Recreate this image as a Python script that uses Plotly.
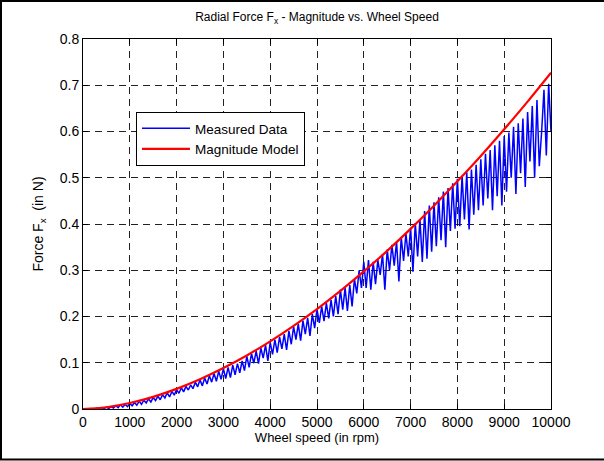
import plotly.graph_objects as go

# Sample grid of the measured run (rpm)
speed_rpm = list(range(0, 10001, 50))

# Measured radial force magnitude (N), one value per grid point
measured_force = [
    0.000, 0.000, 0.001, 0.000, 0.001, 0.000, 0.002, 0.000, 0.003, 0.001,
    0.004, 0.001, 0.005, 0.002, 0.007, 0.003, 0.009, 0.004, 0.010, 0.005,
    0.012, 0.007, 0.014, 0.008, 0.017, 0.010, 0.019, 0.013, 0.022, 0.015,
    0.025, 0.018, 0.028, 0.020, 0.031, 0.024, 0.035, 0.026, 0.038, 0.030,
    0.042, 0.034, 0.046, 0.037, 0.049, 0.041, 0.052, 0.044, 0.058, 0.048,
    0.063, 0.050, 0.067, 0.054, 0.072, 0.058, 0.077, 0.060, 0.082, 0.064,
    0.087, 0.066, 0.090, 0.068, 0.095, 0.074, 0.098, 0.078, 0.104, 0.083,
    0.114, 0.090, 0.120, 0.099, 0.125, 0.098, 0.132, 0.110, 0.138, 0.104,
    0.144, 0.118, 0.150, 0.122, 0.156, 0.130, 0.162, 0.128, 0.169, 0.140,
    0.178, 0.150, 0.184, 0.148, 0.191, 0.162, 0.197, 0.158, 0.205, 0.175,
    0.216, 0.186, 0.222, 0.190, 0.229, 0.196, 0.236, 0.200, 0.244, 0.205,
    0.258, 0.215, 0.262, 0.212, 0.268, 0.222, 0.281, 0.250, 0.300, 0.262,
    0.318, 0.262, 0.322, 0.258, 0.318, 0.270, 0.322, 0.290, 0.335, 0.258,
    0.345, 0.300, 0.355, 0.310, 0.362, 0.276, 0.372, 0.320, 0.380, 0.330,
    0.392, 0.297, 0.402, 0.330, 0.410, 0.318, 0.428, 0.325, 0.440, 0.340,
    0.447, 0.352, 0.458, 0.365, 0.470, 0.350, 0.478, 0.385, 0.488, 0.390,
    0.498, 0.395, 0.504, 0.410, 0.512, 0.388, 0.518, 0.420, 0.528, 0.430,
    0.540, 0.440, 0.552, 0.455, 0.560, 0.430, 0.570, 0.460, 0.580, 0.440,
    0.590, 0.470, 0.598, 0.500, 0.610, 0.465, 0.618, 0.510, 0.628, 0.480,
    0.642, 0.535, 0.655, 0.500, 0.668, 0.525, 0.600, 0.690, 0.548, 0.703,
    0.600,
]

# Magnitude model evaluated every 500 rpm
model_rpm = [0, 500, 1000, 1500, 2000, 2500, 3000, 3500, 4000, 4500, 5000,
             5500, 6000, 6500, 7000, 7500, 8000, 8500, 9000, 9500, 10000]
model_force = [0.0, 0.0038, 0.0129, 0.0263, 0.0435, 0.0643, 0.0886, 0.1158,
               0.1463, 0.1798, 0.2161, 0.2554, 0.2974, 0.342, 0.3894, 0.4395,
               0.4922, 0.547, 0.6047, 0.6646, 0.727]

x_ticks = [0, 1000, 2000, 3000, 4000, 5000, 6000, 7000, 8000, 9000, 10000]
y_ticks = [0, 0.1, 0.2, 0.3, 0.4, 0.5, 0.6, 0.7, 0.8]

FONT = "Liberation Sans, Arial, sans-serif"

fig = go.Figure()
fig.add_trace(go.Scatter(
    x=speed_rpm, y=measured_force, mode="lines", name="Measured Data",
    line=dict(color="#0000ff", width=1.5),
))
fig.add_trace(go.Scatter(
    x=model_rpm, y=model_force, mode="lines", name="Magnitude Model",
    line=dict(color="#ff0000", width=2.2, shape="spline"),
))

axis_common = dict(
    showline=True, linecolor="black", linewidth=1, mirror="ticks",
    ticks="inside", ticklen=5, tickcolor="black", tickwidth=1,
    showgrid=True, gridcolor="#222222", gridwidth=1, griddash="7px,5px",
    zeroline=False, tickfont=dict(family=FONT, size=14, color="black"),
)

fig.update_xaxes(
    range=[0, 10000], tickvals=x_ticks, ticktext=[str(v) for v in x_ticks],
    title=dict(text="Wheel speed (in rpm)", font=dict(family=FONT, size=13, color="black"),
               standoff=3),
    **axis_common,
)
fig.update_yaxes(
    range=[0, 0.8], tickvals=y_ticks, ticktext=[f"{v:g}" for v in y_ticks],
    title=dict(text="Force F<sub>x</sub>  (in N)", font=dict(family=FONT, size=14, color="black"),
               standoff=12),
    **axis_common,
)

fig.update_layout(
    width=604, height=461,
    margin=dict(l=83, r=53, t=39, b=52),
    paper_bgcolor="white", plot_bgcolor="white",
    font=dict(family=FONT, size=13, color="black"),
    title=dict(text="Radial Force F<sub>x</sub> - Magnitude vs. Wheel Speed",
               x=(83 + 551) / 2 / 604, xanchor="center", y=1 - 17 / 461, yanchor="middle",
               font=dict(family=FONT, size=12, color="black")),
    showlegend=True,
    legend=dict(x=(136 - 83) / 468, y=(409 - 112) / 370, xanchor="left", yanchor="top",
                bgcolor="white", bordercolor="black", borderwidth=1,
                font=dict(family=FONT, size=13.5, color="black"),
                itemwidth=48, tracegroupgap=0),
    shapes=[dict(type="rect", xref="paper", yref="paper",
                 x0=(1 - 83) / 468, x1=(606 - 83) / 468,
                 y0=(409 - 459.5) / 370, y1=(409 - 1) / 370,
                 line=dict(color="black", width=2), fillcolor="rgba(0,0,0,0)",
                 layer="above")],
)

fig.write_html("out.html")
